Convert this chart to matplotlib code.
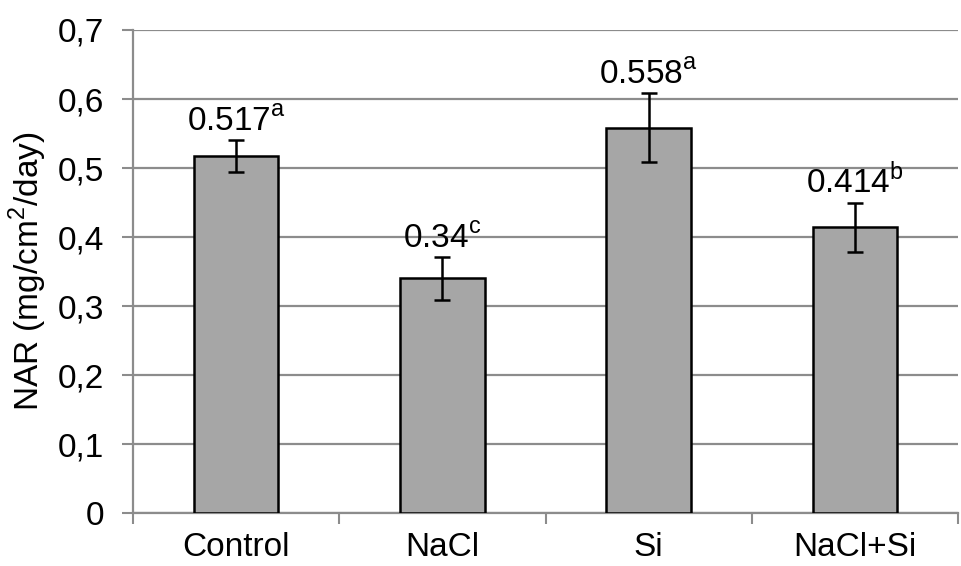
import matplotlib
matplotlib.use("Agg")
import matplotlib.pyplot as plt

categories = ["Control", "NaCl", "Si", "NaCl+Si"]
values = [0.517, 0.34, 0.558, 0.414]
errors = [0.023, 0.031, 0.05, 0.036]
letters = ["a", "c", "a", "b"]
value_labels = ["0.517", "0.34", "0.558", "0.414"]
yticks = [0, 0.1, 0.2, 0.3, 0.4, 0.5, 0.6, 0.7]
ytick_labels = ["0", "0,1", "0,2", "0,3", "0,4", "0,5", "0,6", "0,7"]

plt.rcParams["font.family"] = ["Liberation Sans", "DejaVu Sans"]
plt.rcParams["mathtext.fontset"] = "custom"
plt.rcParams["mathtext.rm"] = "Liberation Sans"

fig = plt.figure(figsize=(9.61, 5.66), dpi=100)
ax = fig.add_axes([0.1384, 0.0936, 0.8586, 0.8534])

grid_c = "#8c8c8c"
fs = 24
x = list(range(len(categories)))
ax.bar(x, values, width=0.41, color="#a6a6a6", edgecolor="black", linewidth=1.8, zorder=3)
ax.errorbar(x, values, yerr=errors, fmt="none", ecolor="black", elinewidth=1.8,
            capsize=6, capthick=1.8, zorder=4)

for xi, v, e, lab, let in zip(x, values, errors, value_labels, letters):
    ax.annotate(lab + r"$^{\mathregular{" + let + "}}$", xy=(xi, v + e), xytext=(0, 2),
                textcoords="offset points", ha="center", va="bottom", fontsize=fs)

ax.set_xlim(-0.5, 3.5)
ax.set_ylim(0, 0.7)
ax.set_yticks(yticks)
ax.set_yticklabels(ytick_labels, fontsize=fs)
ax.set_xticks(x)
ax.set_xticklabels(categories, fontsize=fs)
ax.set_xticks([-0.5, 0.5, 1.5, 2.5, 3.5], minor=True)
ax.tick_params(axis="x", which="major", length=0, pad=14)
ax.tick_params(axis="x", which="minor", length=8, width=1.5, color=grid_c, direction="out")
ax.tick_params(axis="y", length=8, width=1.5, color=grid_c, pad=13)
ax.yaxis.grid(True, color=grid_c, linewidth=1.6, zorder=0)
ax.set_axisbelow(True)
for s in ["top", "right"]:
    ax.spines[s].set_visible(False)
for s in ["left", "bottom"]:
    ax.spines[s].set_color(grid_c)
    ax.spines[s].set_linewidth(1.6)
ax.set_ylabel(r"NAR (mg/cm$^{\mathregular{2}}$/day)", fontsize=fs, labelpad=6)

fig.savefig("out.png", dpi=100)
